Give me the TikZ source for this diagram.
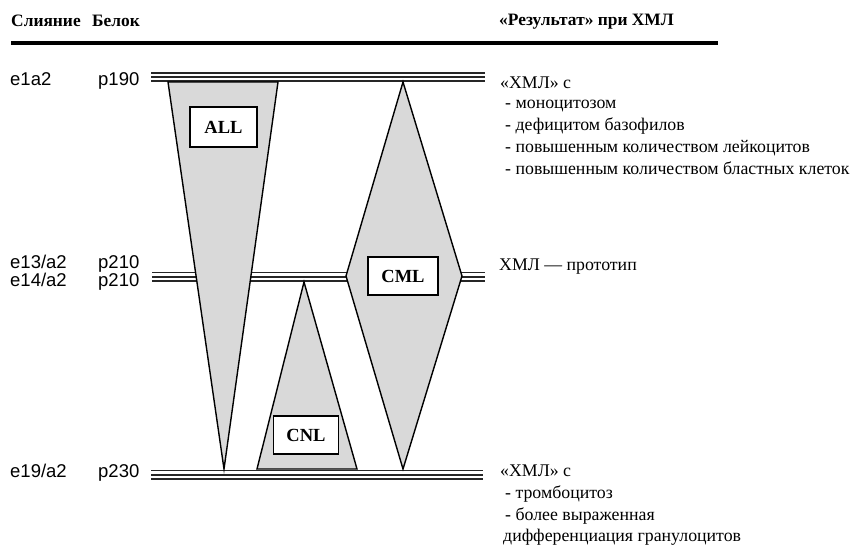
\documentclass[tikz,border=0pt]{standalone}
\usepackage{fontspec}
\setmainfont{Liberation Serif}
\setsansfont{Liberation Sans}
\begin{document}
\begin{tikzpicture}[x=1pt,y=-1pt,
  rail/.style={line width=10pt, draw=black!85,
    postaction={draw=white, line width=6.4pt},
    postaction={draw=black!85, line width=2pt}},
  region/.style={fill=gray!30, draw=black, line width=1.4pt, line join=miter},
  tagbox/.style={draw=black, fill=white, line width=1.4pt, inner sep=0pt,
    font=\bfseries\fontsize{18.5}{20}\selectfont},
  lab/.style={font=\sffamily\fontsize{18.5}{20}\selectfont, anchor=base west, inner sep=0pt},
  txt/.style={font=\fontsize{17.8}{20}\selectfont, anchor=base west, inner sep=0pt},
  hdr/.style={font=\bfseries\fontsize{17.4}{20}\selectfont, anchor=base west, inner sep=0pt}]
\useasboundingbox[fill=white] (0,0) rectangle (853,546);

% header
\node[hdr] (h1) at (11,26) {Слияние};
\node[hdr] (h2) at (92,26) {Белок};
\node[hdr] (h3) at (499,25) {«Результат» при ХМЛ};
\coordinate (tl) at (11,43);
\coordinate (tr) at (718,43);
\draw[line width=4pt] (tl) -- (tr);

% rails
\coordinate (r1w) at (151,77);   \coordinate (r1e) at (485,77);
\coordinate (r2w) at (152,276.5); \coordinate (r2e) at (485,276.5);
\coordinate (r3w) at (151,474.5); \coordinate (r3e) at (483,474.5);
\draw[rail] (r1w) -- (r1e);
\draw[rail] (r2w) -- (r2e);
\draw[rail] (r3w) -- (r3e);

% regions
\draw[region] (168,82) -- (278,82) -- (224,469) -- cycle;
\draw[region] (403,82) -- (462,276) -- (403,469) -- (346,276) -- cycle;
\draw[region] (304,282) -- (357,469) -- (257,469) -- cycle;

% boxes
\node[tagbox, minimum width=67pt, minimum height=40pt] (all) at (223.5,127) {ALL};
\node[tagbox, minimum width=70pt, minimum height=38pt] (cml) at (403,276) {CML};
\node[tagbox, minimum width=65pt, minimum height=38pt] (cnl) at (306,435) {CNL};

% left labels
\node[lab] (f1) at (10,85) {e1a2};
\node[lab] (p1) at (98,85) {p190};
\node[lab] (f2) at (10,268) {e13/a2};
\node[lab] (p2) at (98,268) {p210};
\node[lab] (f3) at (10,286) {e14/a2};
\node[lab] (p3) at (98,286) {p210};
\node[lab] (f4) at (10,477) {e19/a2};
\node[lab] (p4) at (98,477) {p230};

% right texts
\node[txt] (t1) at (500,88) {«ХМЛ» с};
\node[txt] (t2) at (505,108) {- моноцитозом};
\node[txt] (t3) at (505,130) {- дефицитом базофилов};
\node[txt] (t4) at (505,152) {- повышенным количеством лейкоцитов};
\node[txt] (t5) at (505,174) {- повышенным количеством бластных клеток};
\node[txt] (t6) at (499,270) {ХМЛ — прототип};
\node[txt] (t7) at (500,476) {«ХМЛ» с};
\node[txt] (t8) at (505,498) {- тромбоцитоз};
\node[txt] (t9) at (505,520) {- более выраженная};
\node[txt] (t10) at (503,541) {дифференциация гранулоцитов};
\end{tikzpicture}
\end{document}
